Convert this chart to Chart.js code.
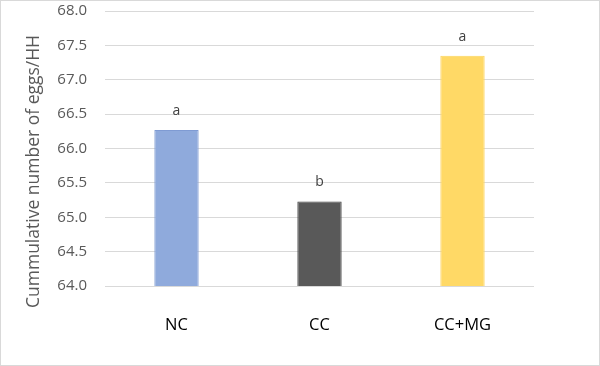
<!DOCTYPE html>
<html>
<head>
<meta charset="utf-8">
<script src="https://cdn.jsdelivr.net/npm/chart.js@4"></script>
<style>
    body { margin: 0; background: #fff; }
    #marco { width: 600px; height: 366px; box-sizing: border-box; border: 1px solid #d9d9d9; }
    canvas { display: block; }
</style>
</head>
<body>
<div id="marco"><canvas id="graficaHuevos" width="598" height="364"></canvas></div>
<script>
const categorias = ['NC', 'CC', 'CC+MG'];
const huevos = [66.27, 65.23, 67.35];
const letras = ['a', 'b', 'a'];
const colores = ['#8faadc', '#595959', '#ffd966'];
const bordes = ['#7f9bd3', '#404040', '#fdd35a'];
const tituloY = 'Cummulative number of eggs/HH';

const fuente = "'Open Sans', Lato, sans-serif";

// letras de significancia encima de cada barra
const letrasPlugin = {
    id: 'letras',
    afterDatasetsDraw(chart){
        const ctx = chart.ctx;
        const meta = chart.getDatasetMeta(0);
        ctx.save();
        ctx.font = '14px ' + fuente;
        ctx.fillStyle = '#404040';
        ctx.textAlign = 'center';
        ctx.textBaseline = 'middle';
        meta.data.forEach(function(barra, i){
            ctx.fillText(letras[i], barra.x, barra.y - 19);
        });
        ctx.restore();
    }
};

// titulo del eje y, un poco bajado como en el original
const tituloPlugin = {
    id: 'tituloY',
    afterDraw(chart){
        const ctx = chart.ctx;
        const area = chart.chartArea;
        ctx.save();
        ctx.translate(33, (area.top + area.bottom) / 2 + 23);
        ctx.rotate(-Math.PI / 2);
        ctx.font = '17.5px ' + fuente;
        ctx.fillStyle = '#595959';
        ctx.textAlign = 'center';
        ctx.textBaseline = 'middle';
        ctx.fillText(tituloY, 0, 0);
        ctx.restore();
    }
};

new Chart(document.getElementById('graficaHuevos'), {
    type: 'bar',
    data: {
        labels: categorias,
        datasets: [{
            data: huevos,
            backgroundColor: colores,
            borderColor: bordes,
            borderWidth: 1,
            categoryPercentage: 1,
            barPercentage: 0.31
        }]
    },
    options: {
        responsive: false,
        animation: false,
        layout: { autoPadding: false, padding: { left: 0, right: 65, top: 10, bottom: 0 } },
        plugins: {
            legend: { display: false },
            tooltip: { enabled: false }
        },
        scales: {
            x: {
                grid: { display: false },
                border: { display: false },
                ticks: { color: '#000', font: { family: fuente, size: 16.5 }, padding: 21 },
                afterFit: function(escala){ escala.height = 79; }
            },
            y: {
                min: 64,
                max: 68,
                border: { display: false },
                grid: { color: '#d9d9d9', drawTicks: false },
                ticks: {
                    stepSize: 0.5,
                    padding: 18,
                    color: '#595959',
                    font: { family: fuente, size: 15 },
                    callback: function(v){ return v.toFixed(1); }
                },
                afterFit: function(escala){
                    escala.width = 104;
                    escala.paddingTop = 0;
                    escala.paddingBottom = 0;
                }
            }
        }
    },
    plugins: [letrasPlugin, tituloPlugin]
});
</script>
</body>
</html>
